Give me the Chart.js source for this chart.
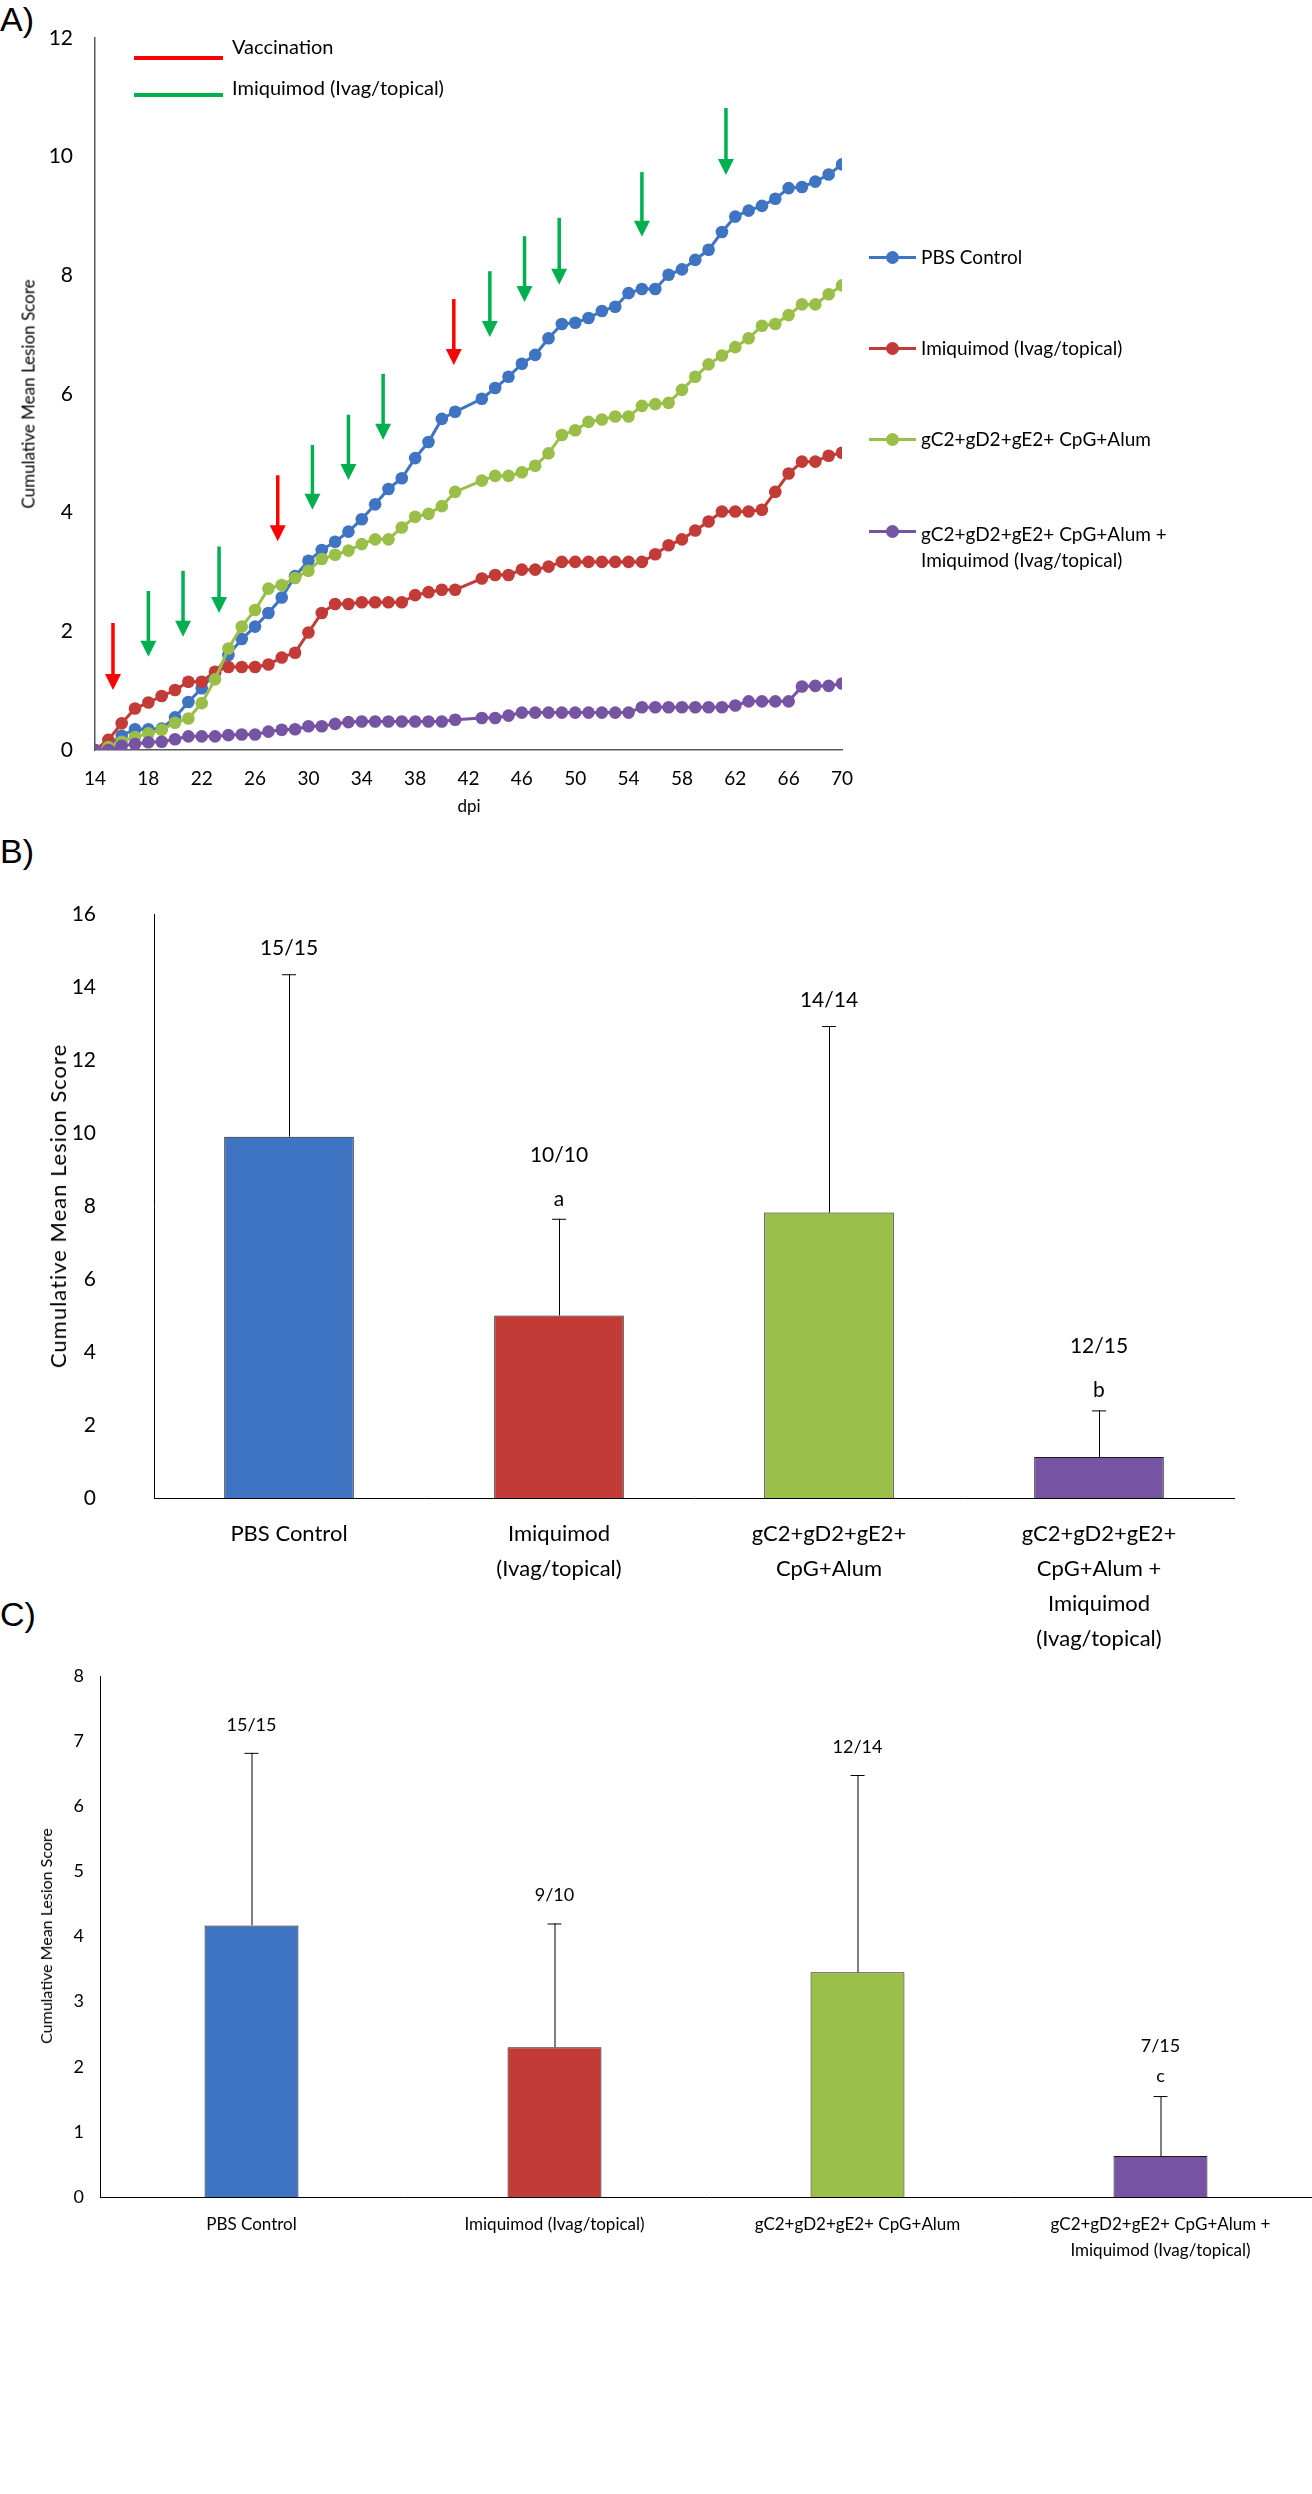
<!DOCTYPE html>
<html><head><meta charset="utf-8">
<script src="https://cdn.jsdelivr.net/npm/chart.js@4.4.1/dist/chart.umd.min.js"></script>
<style>
body{margin:0;background:#fff;width:1312px;height:2494px;position:relative;font-family:Lato,"Open Sans",sans-serif;color:#000;overflow:hidden}
canvas{position:absolute;left:0}
.t{position:absolute;white-space:nowrap;line-height:1}
.rot{position:absolute;white-space:nowrap;line-height:1;transform:translate(-50%,-50%) rotate(-90deg)}
.ln{position:absolute;height:4px}
.mk{position:absolute;width:13px;height:13px;border-radius:50%}
</style></head><body>

<div class="t" style="left:0;top:2px;font-size:34px;font-family:'Liberation Sans',Arial,sans-serif">A)</div>
<div class="t" style="left:0;top:834px;font-size:34px;font-family:'Liberation Sans',Arial,sans-serif">B)</div>
<div class="t" style="left:0;top:1597px;font-size:34px;font-family:'Liberation Sans',Arial,sans-serif">C)</div>

<canvas id="cA" width="1312" height="840" style="top:0"></canvas>
<canvas id="cB" width="1312" height="850" style="top:830px"></canvas>
<canvas id="cC" width="1312" height="904" style="top:1590px"></canvas>

<div class="rot" style="left:28px;top:394px;font-size:17px">Cumulative Mean Lesion Score</div>
<div class="t" style="left:469px;top:797px;font-size:17px;transform:translateX(-50%)">dpi</div>
<div class="rot" style="left:58px;top:1206px;font-size:22px;letter-spacing:1px">Cumulative Mean Lesion Score</div>
<div class="rot" style="left:46px;top:1936px;font-size:16px">Cumulative Mean Lesion Score</div>

<div id="legA"></div>

<script>
// ---------- Panel A data ----------
const days = [14,15,16,17,18,19,20,21,22,23,24,25,26,27,28,29,30,31,32,33,34,35,36,37,38,39,40,41,
              43,44,45,46,47,48,49,50,51,52,53,54,55,56,57,58,59,60,61,62,63,64,65,66,67,68,69,70];
const pbsControl = [0,0.08,0.24,0.35,0.35,0.36,0.55,0.81,1.04,1.30,1.60,1.87,2.08,2.31,2.57,2.93,3.19,3.37,3.51,3.68,3.89,4.14,4.40,4.58,4.92,5.19,5.58,5.70,
                    5.92,6.10,6.29,6.51,6.66,6.94,7.18,7.20,7.28,7.40,7.47,7.70,7.77,7.77,8.01,8.10,8.26,8.43,8.73,8.99,9.09,9.17,9.29,9.47,9.49,9.58,9.70,9.87];
const imiquimod = [0,0.17,0.45,0.70,0.80,0.91,1.01,1.15,1.15,1.32,1.40,1.40,1.40,1.44,1.56,1.64,1.98,2.31,2.46,2.46,2.49,2.49,2.49,2.49,2.61,2.66,2.70,2.70,
                   2.89,2.95,2.95,3.04,3.04,3.09,3.17,3.17,3.17,3.17,3.17,3.17,3.17,3.30,3.45,3.55,3.70,3.85,4.02,4.02,4.02,4.05,4.35,4.66,4.86,4.86,4.96,5.01];
const vaccine = [0,0.05,0.14,0.22,0.28,0.34,0.46,0.53,0.79,1.19,1.71,2.08,2.36,2.72,2.78,2.90,3.02,3.22,3.29,3.36,3.47,3.55,3.55,3.75,3.93,3.98,4.11,4.35,
                 4.54,4.62,4.62,4.68,4.79,5.00,5.31,5.39,5.53,5.57,5.62,5.62,5.80,5.83,5.85,6.07,6.29,6.50,6.65,6.79,6.94,7.15,7.18,7.33,7.51,7.51,7.68,7.83];
const vaccineImiquimod = [0,0,0.07,0.10,0.13,0.14,0.18,0.23,0.23,0.23,0.25,0.26,0.26,0.31,0.34,0.35,0.40,0.40,0.44,0.47,0.48,0.48,0.48,0.48,0.48,0.48,0.48,0.51,
                          0.54,0.54,0.58,0.63,0.63,0.63,0.63,0.63,0.63,0.63,0.63,0.63,0.72,0.72,0.72,0.72,0.72,0.72,0.72,0.75,0.82,0.82,0.82,0.82,1.07,1.08,1.08,1.12];
const seriesNamesA = ['PBS Control','Imiquimod (Ivag/topical)','gC2+gD2+gE2+ CpG+Alum',['gC2+gD2+gE2+ CpG+Alum +','Imiquimod (Ivag/topical)']];
// treatment arrows: day, top value, tip value
const vaccinationDays = [15.35, 27.7, 40.9];
const vaccinationTop  = [2.14, 4.63, 7.60];
const vaccinationTip  = [1.01, 3.52, 6.49];
const imiqDays = [18.0, 20.6, 23.3, 30.3, 33.0, 35.6, 43.6, 46.2, 48.8, 55.0, 61.3];
const imiqTop  = [2.68, 3.02, 3.43, 5.14, 5.65, 6.34, 8.07, 8.66, 8.97, 9.74, 10.82];
const imiqTip  = [1.57, 1.91, 2.31, 4.05, 4.55, 5.23, 6.96, 7.55, 7.84, 8.65, 9.69];

// ---------- Panel B data ----------
const groupLabelsB = [['PBS Control'],['Imiquimod','(Ivag/topical)'],['gC2+gD2+gE2+','CpG+Alum'],['gC2+gD2+gE2+','CpG+Alum +','Imiquimod','(Ivag/topical)']];
const meanB = [9.9, 5.0, 7.82, 1.12];
const errTopB = [14.35, 7.65, 12.93, 2.40];
const ratioB = ['15/15','10/10','14/14','12/15'];
const letterB = ['','a','','b'];

// ---------- Panel C data ----------
const groupLabelsC = ['PBS Control','Imiquimod (Ivag/topical)','gC2+gD2+gE2+ CpG+Alum',['gC2+gD2+gE2+ CpG+Alum +','Imiquimod (Ivag/topical)']];
const meanC = [4.17, 2.30, 3.45, 0.63];
const errTopC = [6.82, 4.20, 6.48, 1.55];
const ratioC = ['15/15','9/10','12/14','7/15'];
const letterC = ['','','','c'];

// ---------- styling ----------
const BLUE='#3F74C2', RED='#C23B37', GREEN='#99BF48', PURPLE='#7653A3';
const colors=[BLUE,RED,GREEN,PURPLE];
const FONT='Lato';
const AXIS='#595959';

// legend A (HTML)
(function(){
  const leg=document.getElementById('legA');
  let h='';
  h+=`<div class="ln" style="left:134px;top:56px;width:89px;background:#FF0000"></div>`;
  h+=`<div class="t" style="left:232px;top:36px;font-size:20px">Vaccination</div>`;
  h+=`<div class="ln" style="left:134px;top:93px;width:89px;background:#00B050"></div>`;
  h+=`<div class="t" style="left:232px;top:77px;font-size:20px">Imiquimod (Ivag/topical)</div>`;
  const ys=[257,348,439,531];
  seriesNamesA.forEach((n,i)=>{
    const y=ys[i];
    h+=`<div class="ln" style="left:869px;top:${y-1.5}px;width:47px;height:3px;background:${colors[i]}"></div>`;
    h+=`<div class="mk" style="left:${892-6.5}px;top:${y-6.5}px;background:${colors[i]}"></div>`;
    if(Array.isArray(n)){
      h+=`<div class="t" style="left:921px;top:${y-10}px;font-size:19px;line-height:26px">${n[0]}<br>${n[1]}</div>`;
    } else {
      h+=`<div class="t" style="left:921px;top:${y-10}px;font-size:19px">${n}</div>`;
    }
  });
  leg.innerHTML=h;
})();

const arrowPlugin={id:'arrows',afterDatasetsDraw(chart){
  const {ctx,scales:{x,y}}=chart;
  const draw=(d,t,p,col)=>{
    const px=x.getPixelForValue(d), yt=y.getPixelForValue(t), yp=y.getPixelForValue(p);
    const head=16, hw=8;
    ctx.save();
    ctx.strokeStyle=col; ctx.fillStyle=col; ctx.lineWidth=3.5;
    ctx.beginPath(); ctx.moveTo(px,yt); ctx.lineTo(px,yp-head+2); ctx.stroke();
    ctx.beginPath(); ctx.moveTo(px-hw,yp-head); ctx.lineTo(px+hw,yp-head); ctx.lineTo(px,yp); ctx.closePath(); ctx.fill();
    ctx.restore();
  };
  vaccinationDays.forEach((d,i)=>draw(d,vaccinationTop[i],vaccinationTip[i],'#FF0000'));
  imiqDays.forEach((d,i)=>draw(d,imiqTop[i],imiqTip[i],'#00B050'));
}};

function pts(ys){return days.map((d,i)=>({x:d,y:ys[i]}));}
function lineDs(label,vals,col,order){
  return {label,data:pts(vals),borderColor:col,backgroundColor:col,pointBackgroundColor:col,pointBorderColor:col,
          pointRadius:6.3,pointBorderWidth:0,borderWidth:3,tension:0,order};
}

new Chart(document.getElementById('cA'),{
  type:'line',
  data:{datasets:[
    lineDs('PBS Control',pbsControl,BLUE,3),
    lineDs('Imiquimod (Ivag/topical)',imiquimod,RED,2),
    lineDs('gC2+gD2+gE2+ CpG+Alum',vaccine,GREEN,1),
    lineDs('gC2+gD2+gE2+ CpG+Alum + Imiquimod (Ivag/topical)',vaccineImiquimod,PURPLE,0)
  ]},
  options:{
    responsive:false,animation:false,devicePixelRatio:1,
    layout:{padding:{left:0,right:470,top:38,bottom:0}},
    plugins:{legend:{display:false},tooltip:{enabled:false}},
    scales:{
      x:{type:'linear',min:14,max:70,
         ticks:{stepSize:4,color:'#000',font:{family:FONT,size:19},padding:17,maxRotation:0},
         grid:{display:false,drawTicks:false},border:{display:true,color:AXIS,width:1.5},
         afterFit(s){s.height=90;}},
      y:{min:0,max:12,
         ticks:{stepSize:2,color:'#000',font:{family:FONT,size:21},padding:22},
         grid:{display:false,drawTicks:false},border:{display:true,color:AXIS,width:1.5},
         afterFit(s){s.width=95;}}
    }
  },
  plugins:[arrowPlugin]
});

function errPlugin(errTop,ratio,letter,cfg){
  return {id:'err',afterDatasetsDraw(chart){
    const {ctx,scales:{x,y}}=chart;
    const meta=chart.getDatasetMeta(0);
    meta.data.forEach((bar,i)=>{
      const px=bar.x, yb=bar.y, ye=y.getPixelForValue(errTop[i]);
      ctx.save();
      ctx.strokeStyle='#000';ctx.lineWidth=1;
      ctx.beginPath();ctx.moveTo(px+0.5,yb);ctx.lineTo(px+0.5,ye);
      ctx.moveTo(px-cfg.cap,ye+0.5);ctx.lineTo(px+cfg.cap,ye+0.5);ctx.stroke();
      ctx.fillStyle='#000';ctx.textAlign='center';ctx.textBaseline='middle';
      ctx.font=`${cfg.size}px ${FONT}`;
      if(letter[i]){
        ctx.fillText(letter[i],px,ye-cfg.letterOff);
        ctx.fillText(ratio[i],px,ye-cfg.ratioOffL);
      } else {
        ctx.fillText(ratio[i],px,ye-cfg.ratioOff);
      }
      ctx.restore();
    });
  }};
}

new Chart(document.getElementById('cB'),{
  type:'bar',
  data:{labels:groupLabelsB,datasets:[{data:meanB,backgroundColor:colors,borderColor:'#1a1a1a',borderWidth:1,
        barPercentage:0.48,categoryPercentage:1}]},
  options:{
    responsive:false,animation:false,devicePixelRatio:1,
    layout:{padding:{left:0,right:78,top:84,bottom:0}},
    plugins:{legend:{display:false},tooltip:{enabled:false}},
    scales:{
      x:{ticks:{color:'#000',font:{family:FONT,size:22,lineHeight:1.6},padding:18,maxRotation:0,autoSkip:false},
         grid:{display:false,drawTicks:false},border:{display:true,color:'#000',width:1},
         afterFit(s){s.height=182;}},
      y:{min:0,max:16,ticks:{stepSize:2,color:'#000',font:{family:FONT,size:21},padding:58},
         grid:{display:false,drawTicks:false},border:{display:true,color:'#000',width:1},
         afterFit(s){s.width=154;}}
    }
  },
  plugins:[errPlugin(errTopB,ratioB,letterB,{cap:7,size:21,letterOff:20,ratioOff:26,ratioOffL:64})]
});

new Chart(document.getElementById('cC'),{
  type:'bar',
  data:{labels:groupLabelsC,datasets:[{data:meanC,backgroundColor:colors,borderColor:'#1a1a1a',borderWidth:1,
        barPercentage:0.31,categoryPercentage:1}]},
  options:{
    responsive:false,animation:false,devicePixelRatio:1,
    layout:{padding:{left:0,right:0,top:86,bottom:0}},
    plugins:{legend:{display:false},tooltip:{enabled:false}},
    scales:{
      x:{ticks:{color:'#000',font:{family:FONT,size:17,lineHeight:1.55},padding:14,maxRotation:0,autoSkip:false},
         grid:{display:false,drawTicks:false},border:{display:true,color:'#000',width:1},
         afterFit(s){s.height=297;}},
      y:{min:0,max:8,ticks:{stepSize:1,color:'#000',font:{family:FONT,size:18},padding:16},
         grid:{display:false,drawTicks:false},border:{display:true,color:'#000',width:1},
         afterFit(s){s.width=100;}}
    }
  },
  plugins:[errPlugin(errTopC,ratioC,letterC,{cap:7,size:18,letterOff:20,ratioOff:28,ratioOffL:50})]
});
</script>
</body></html>
